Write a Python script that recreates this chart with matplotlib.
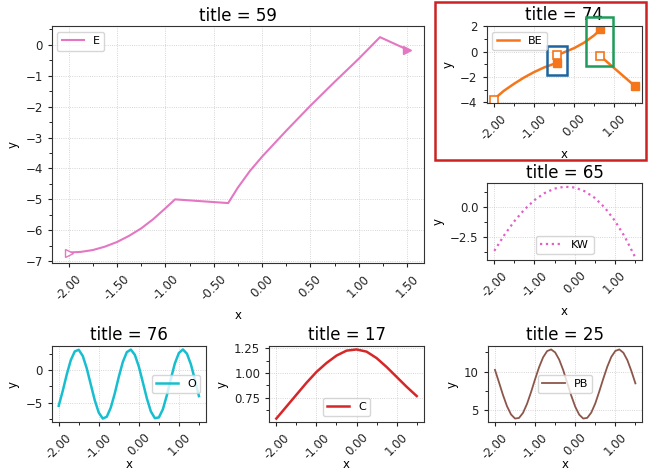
import matplotlib
matplotlib.use("Agg")
import matplotlib.pyplot as plt
import matplotlib.patches as patches
from matplotlib.ticker import MultipleLocator, AutoMinorLocator, FormatStrFormatter

# ---- data ----
# big panel, series E
e_x = [-2.0, -1.875, -1.75, -1.625, -1.5, -1.375, -1.25, -1.125, -1.0, -0.9, -0.35, -0.25, -0.125,
       0.0, 0.25, 0.5, 0.75, 1.0, 1.22, 1.5]
e_y = [-6.72, -6.70, -6.64, -6.53, -6.38, -6.18, -5.94, -5.64, -5.29, -5.0, -5.12, -4.62, -4.08,
       -3.62, -2.78, -1.97, -1.2, -0.45, 0.25, -0.15]

# series BE, three pieces with jumps
be_x1 = [-2.0, -1.75, -1.5, -1.25, -1.0, -0.75, -0.43]
be_y1 = [-3.78, -3.1, -2.55, -2.05, -1.62, -1.25, -0.88]
be_x2 = [-0.43, -0.25, 0.0, 0.25, 0.5, 0.65]
be_y2 = [-0.3, -0.05, 0.28, 0.72, 1.3, 1.75]
be_x3 = [0.65, 1.0, 1.5]
be_y3 = [-0.35, -1.32, -2.7]

# series KW
kw_x = [-2.0, -1.75, -1.5, -1.25, -1.0, -0.75, -0.5, -0.25, 0.0, 0.25, 0.5, 0.75, 1.0, 1.25, 1.5]
kw_y = [-3.67, -2.35, -1.2, -0.23, 0.55, 1.13, 1.51, 1.665, 1.6, 1.29, 0.74, -0.07, -1.15, -2.5, -4.14]

# series O and PB (sampled every 0.1)
wave_x = [-2.0, -1.9, -1.8, -1.7, -1.6, -1.5, -1.4, -1.3, -1.2, -1.1, -1.0, -0.9, -0.8, -0.7, -0.6,
          -0.5, -0.4, -0.3, -0.2, -0.1, 0.0, 0.1, 0.2, 0.3, 0.4, 0.5, 0.6, 0.7, 0.8, 0.9, 1.0,
          1.1, 1.2, 1.3, 1.4, 1.5]
o_y = [-5.46, -3.19, -0.69, 1.49, 2.85, 3.10, 2.16, 0.26, -2.19, -4.62, -6.51, -7.41, -7.13, -5.73, -3.55,
       -1.03, 1.23, 2.74, 3.13, 2.33, 0.54, -1.87, -4.32, -6.32, -7.35, -7.24, -5.99, -3.85, -1.31, 1.03, 2.61,
       3.15, 2.51, 0.87, -1.47, -3.98]
pb_y = [10.22, 8.62, 6.98, 5.54, 4.48, 3.95, 4.03, 4.69, 5.86, 7.37, 9.02, 10.57, 11.84, 12.64, 12.85,
        12.47, 11.55, 10.20, 8.55, 6.92, 5.48, 4.45, 3.95, 4.04, 4.72, 5.90, 7.45, 9.09, 10.64, 11.90, 12.66,
        12.85, 12.43, 11.47, 10.07, 8.48]

# series C
c_x = [-2.0, -1.75, -1.5, -1.25, -1.0, -0.75, -0.5, -0.25, 0.0, 0.25, 0.5, 0.75, 1.0, 1.25, 1.5]
c_y = [0.54, 0.66, 0.78, 0.90, 1.01, 1.10, 1.175, 1.225, 1.237, 1.215, 1.15, 1.06, 0.96, 0.86, 0.767]

fig = plt.figure(figsize=(6.48, 4.71), dpi=100)


def style(ax, title, xstep, ystep, xpad=4):
    ax.set_title(title, fontsize=12, pad=4)
    ax.xaxis.set_major_locator(MultipleLocator(xstep))
    ax.xaxis.set_major_formatter(FormatStrFormatter('%.2f'))
    ax.yaxis.set_major_locator(MultipleLocator(ystep))
    ax.xaxis.set_minor_locator(AutoMinorLocator(2))
    ax.yaxis.set_minor_locator(AutoMinorLocator(2))
    ax.tick_params(labelsize=8.5, length=3, width=0.8, colors='#222222')
    ax.tick_params(which='minor', length=2)
    for lab in ax.get_xticklabels():
        lab.set_rotation(45)
    ax.grid(True, linestyle=':', linewidth=0.6, color='#c8c8c8')
    ax.set_xlabel('x', fontsize=8.5, labelpad=xpad)
    ax.set_ylabel('y', fontsize=8.5)
    for sp in ax.spines.values():
        sp.set_color('#333333')


# big panel
ax1 = fig.add_axes([0.0798, 0.441, 0.5745, 0.503])
ax1.plot(e_x, e_y, color='#e377c2', lw=1.5, label='E')
ax1.plot(e_x[0], e_y[0], marker='>', ms=6, mfc='white', mec='#e377c2', ls='none')
ax1.plot(e_x[-1], e_y[-1], marker='>', ms=6, color='#e377c2', ls='none')
style(ax1, 'title = 59', 0.5, 1)
ax1.legend(loc='upper left', fontsize=8)

# BE panel
ax2 = fig.add_axes([0.751, 0.7813, 0.2392, 0.1635])
orange = '#f5761a'
for xs, ys in [(be_x1, be_y1), (be_x2, be_y2), (be_x3, be_y3)]:
    line, = ax2.plot(xs, ys, color=orange, lw=1.8)
    ax2.plot(xs[0], ys[0], marker='s', ms=5.5, mfc='white', mec=orange, mew=1.2, ls='none')
    ax2.plot(xs[-1], ys[-1], marker='s', ms=5.5, color=orange, ls='none')
line.set_label('BE')
style(ax2, 'title = 74', 1.0, 2)
ax2.legend(handles=[line], loc='upper left', fontsize=8)
ax2.add_patch(patches.Rectangle((-0.68, -1.81), 0.49, 2.28, fill=False,
                                edgecolor='#1d64a0', lw=1.8, clip_on=False, zorder=5))
ax2.add_patch(patches.Rectangle((0.30, -1.10), 0.67, 3.84, fill=False,
                                edgecolor='#1f9c5a', lw=1.8, clip_on=False, zorder=5))
fig.add_artist(patches.Rectangle((435 / 648, 1 - 160 / 471), 211 / 648, 158 / 471,
                                 transform=fig.transFigure, fill=False,
                                 edgecolor='#cc2222', lw=1.8))

# KW panel
ax3 = fig.add_axes([0.752, 0.448, 0.2385, 0.163])
ax3.plot(kw_x, kw_y, color='#e060c8', lw=1.6, ls=':', label='KW')
style(ax3, 'title = 65', 1.0, 2.5)
ax3.legend(loc='lower center', fontsize=8)

# bottom row
ax4 = fig.add_axes([0.0798, 0.104, 0.238, 0.1614])
ax4.plot(wave_x, o_y, color='#17becf', lw=1.8, label='O')
style(ax4, 'title = 76', 1.0, 5, xpad=-3)
ax4.legend(loc='center right', fontsize=8)

ax5 = fig.add_axes([0.4156, 0.104, 0.2383, 0.1614])
ax5.plot(c_x, c_y, color='#d62728', lw=1.8, label='C')
style(ax5, 'title = 17', 1.0, 0.25, xpad=-3)
ax5.legend(loc='lower center', fontsize=8)

ax6 = fig.add_axes([0.753, 0.104, 0.2384, 0.1614])
ax6.plot(wave_x, pb_y, color='#8c564b', lw=1.3, label='PB')
style(ax6, 'title = 25', 1.0, 5, xpad=-3)
ax6.legend(loc='center', fontsize=8)

fig.savefig('out.png', dpi=100)
